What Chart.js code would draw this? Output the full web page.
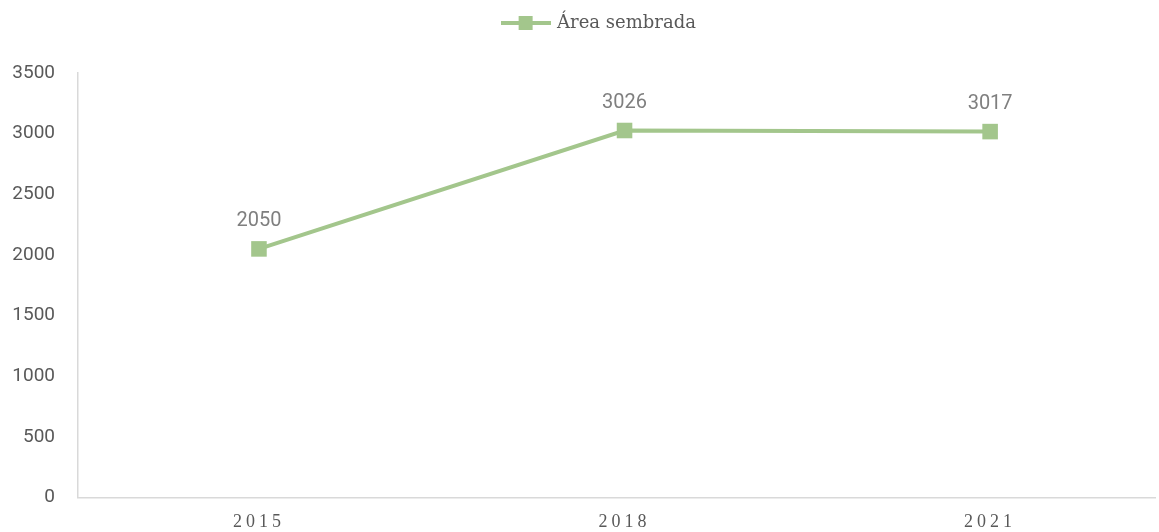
<!DOCTYPE html>
<html>
<head>
<meta charset="utf-8">
<script src="https://cdn.jsdelivr.net/npm/chart.js@4/dist/chart.umd.min.js"></script>
<style>
html,body{margin:0;padding:0;background:#fff;}
#wrap{width:1159px;height:532px;position:relative;}
</style>
</head>
<body>
<div id="wrap"><canvas id="c" width="1159" height="532"></canvas></div>
<script>
const categories = ["2015", "2018", "2021"];
const seriesName = "Área sembrada";
const values = [2050, 3026, 3017];
const yTicks = [0, 500, 1000, 1500, 2000, 2500, 3000, 3500];

const GREEN = "#a3c68c";
const GRAY = "#595959";

// legend marker: line + square
const mk = document.createElement("canvas");
mk.width = 50; mk.height = 16;
(function(){
  const g = mk.getContext("2d");
  g.strokeStyle = GREEN; g.lineWidth = 4;
  g.beginPath(); g.moveTo(0, 8); g.lineTo(50, 8); g.stroke();
  g.fillStyle = GREEN; g.fillRect(18, 1, 14, 14);
})();

const labelPlugin = {
  id: "valueLabels",
  afterDatasetsDraw(chart) {
    const ctx = chart.ctx;
    const meta = chart.getDatasetMeta(0);
    ctx.save();
    ctx.font = "20px Roboto";
    ctx.fillStyle = "#7f7f7f";
    ctx.textAlign = "center";
    ctx.textBaseline = "bottom";
    meta.data.forEach((pt, i) => {
      ctx.fillText(String(values[i]), pt.x, pt.y - 18);
    });
    ctx.restore();
  }
};

const spacingPlugin = {
  id: "xSpacing",
  beforeDraw(chart) {
    const s = chart.scales.x;
    if (s && !s._spPatched) {
      const orig = s.drawLabels.bind(s);
      s.drawLabels = function(area) {
        const ctx = chart.ctx;
        ctx.save();
        ctx.letterSpacing = "4px";
        orig(area);
        ctx.restore();
      };
      s._spPatched = true;
    }
  }
};

const legendPlugin = {
  id: "legendTweaks",
  afterInit(chart) {
    const lg = chart.legend;
    if (lg && !lg._hPatched) {
      const origFit = lg.fit.bind(lg);
      lg.fit = function() { origFit(); this.height += 31; };
      const origDraw = lg.draw.bind(lg);
      lg.draw = function() {
        const ctx = chart.ctx;
        ctx.save();
        ctx.translate(22, 0);
        origDraw();
        ctx.restore();
      };
      lg._hPatched = true;
    }
  }
};

new Chart(document.getElementById("c"), {
  type: "line",
  data: {
    datasets: [{
      label: seriesName,
      data: values.map((v, i) => ({ x: i, y: v })),
      borderColor: GREEN,
      backgroundColor: GREEN,
      borderWidth: 4,
      pointStyle: "rect",
      pointRadius: 11,
      pointHoverRadius: 11,
      pointBorderWidth: 0,
      tension: 0,
      clip: false
    }]
  },
  options: {
    responsive: false,
    animation: false,
    events: [],
    layout: { autoPadding: false, padding: { left: 0, right: 4, top: 10, bottom: 0 } },
    plugins: {
      tooltip: { enabled: false },
      legend: {
        display: true,
        position: "top",
        labels: {
          usePointStyle: true,
          pointStyle: mk,
          pointStyleWidth: 45,
          color: GRAY,
          font: { family: "'DejaVu Serif', serif", size: 18 },
          padding: 4,
          generateLabels(chart) {
            return [{ text: seriesName, pointStyle: mk, fontColor: GRAY, datasetIndex: 0, lineWidth: 0, strokeStyle: "transparent", fillStyle: "transparent" }];
          }
        }
      }
    },
    scales: {
      x: {
        type: "linear",
        min: -0.495,
        max: 2.451,
        afterBuildTicks(scale) { scale.ticks = categories.map((c, i) => ({ value: i })); },
        afterFit(scale) { scale.height = 34; scale.paddingLeft = 0; scale.paddingRight = 0; },
        grid: { display: false, drawTicks: false },
        border: { display: true, color: "#d9d9d9", width: 1.5 },
        ticks: {
          callback: (v) => categories[v],
          color: GRAY,
          font: { family: "'Liberation Serif', serif", size: 18 },
          padding: 14,
          maxRotation: 0,
          autoSkip: false
        }
      },
      y: {
        min: 0,
        max: 3500,
        afterBuildTicks(scale) { scale.ticks = yTicks.map(v => ({ value: v })); },
        afterFit(scale) { scale.width = 78; },
        grid: { display: false, drawTicks: false },
        border: { display: true, color: "#d9d9d9", width: 1.5 },
        ticks: {
          callback: (v) => String(v),
          color: GRAY,
          font: { family: "Roboto", size: 19 },
          padding: 23
        }
      }
    }
  },
  plugins: [labelPlugin, spacingPlugin, legendPlugin]
});
</script>
</body>
</html>
